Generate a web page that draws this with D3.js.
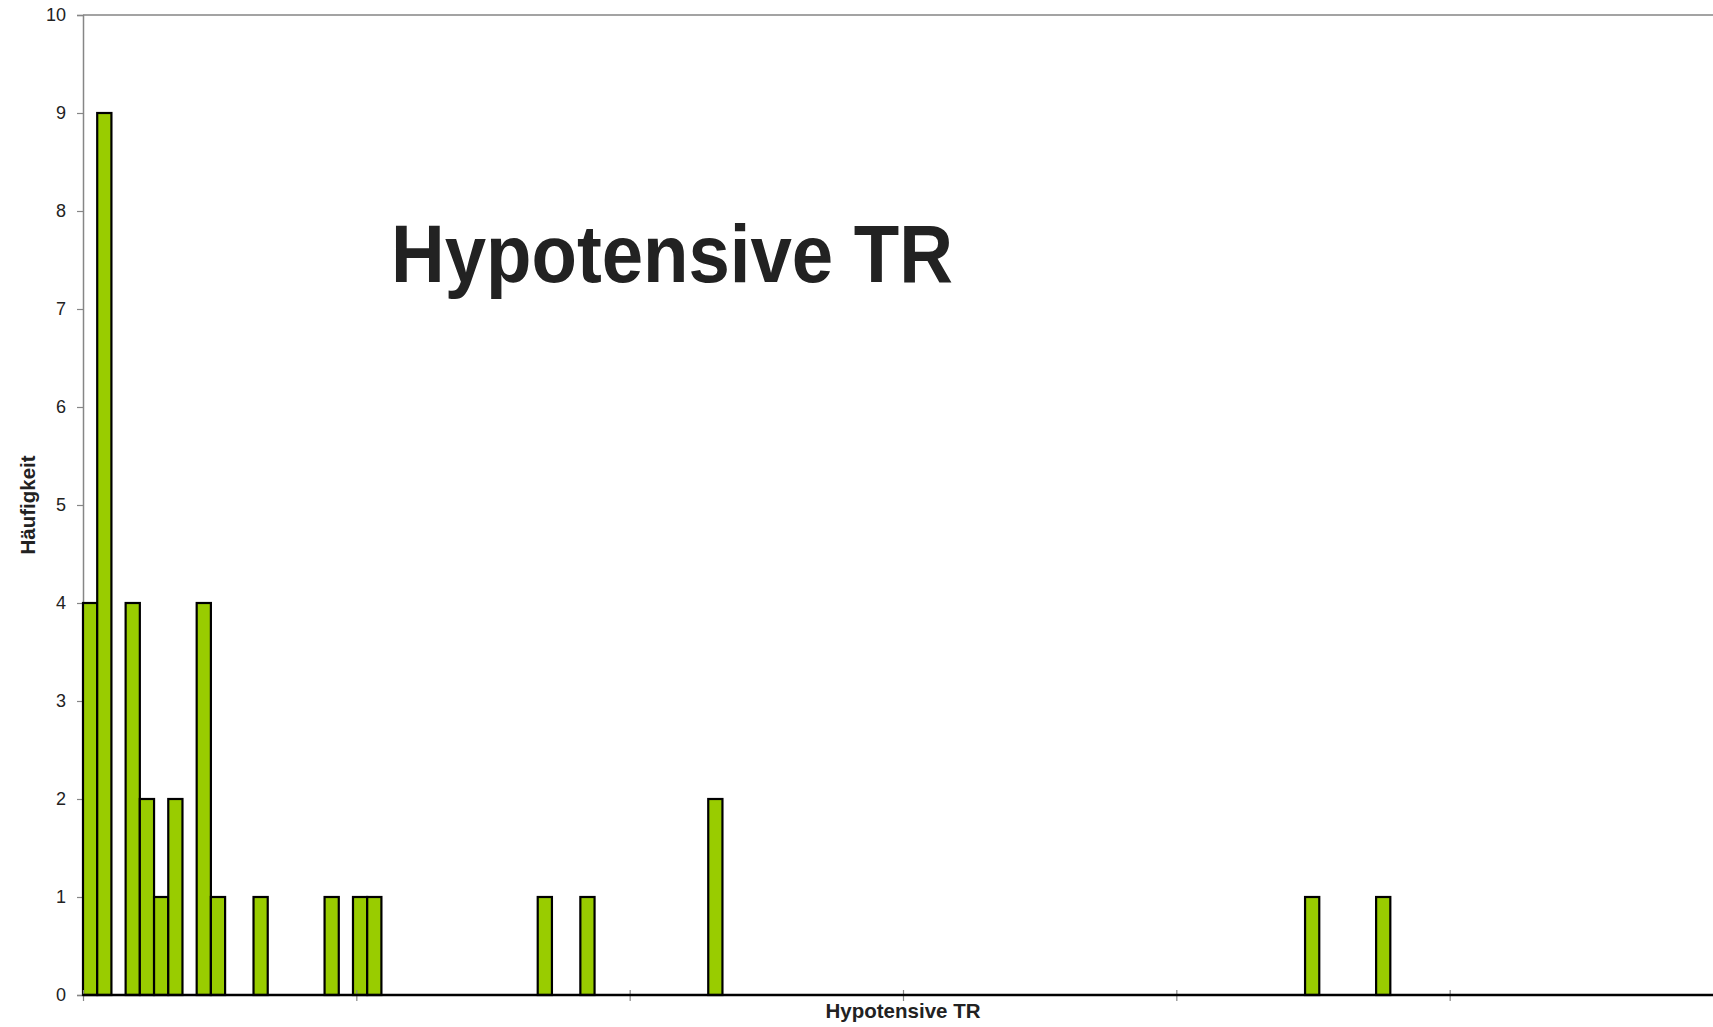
<!DOCTYPE html>
<html>
<head>
<meta charset="utf-8">
<script src="https://cdn.jsdelivr.net/npm/d3@7"></script>
<style>
  body { margin: 0; background: #fff; }
  svg { display: block; font-family: "Liberation Sans", Arial, sans-serif; }
</style>
</head>
<body>
<svg width="1713" height="1027"></svg>
<script>
// histogram bins (index of bin) and their counts
var binIndex = [0, 1, 3, 4, 5, 6, 8, 9, 12, 17, 19, 20, 32, 35, 44, 86, 91];
var binCount = [4, 9, 4, 2, 1, 2, 4, 1, 1, 1, 1, 1, 1, 1, 2, 1, 1];
var nBins = 115;
var yTicks = [0, 1, 2, 3, 4, 5, 6, 7, 8, 9, 10];
var xTickCount = 7;

var title = "Hypotensive TR",
    xLabel = "Hypotensive TR",
    yLabel = "Häufigkeit";

var svg = d3.select("svg");

var plotLeft = 83, plotTop = 15, plotBottom = 995, plotRight = 1723;
var binW = 14.21;

var x = d3.scaleBand()
  .domain(d3.range(nBins))
  .range([plotLeft, plotLeft + nBins * binW])
  .padding(0);

var xTick = d3.scaleLinear()
  .domain([0, xTickCount - 1])
  .range([plotLeft, plotRight]);

var y = d3.scaleLinear()
  .domain([0, 10])
  .range([plotBottom, plotTop]);

// top border
svg.append("line")
  .attr("x1", plotLeft).attr("x2", 1713)
  .attr("y1", plotTop).attr("y2", plotTop)
  .attr("stroke", "#858585").attr("stroke-width", 1.5);

// y axis
var yAxis = svg.append("g")
  .attr("transform", "translate(" + plotLeft + ",0)")
  .call(d3.axisLeft(y).tickValues(yTicks).tickSize(6).tickPadding(11));
yAxis.select(".domain").attr("stroke", "#868686").attr("stroke-width", 1.5);
yAxis.selectAll(".tick line").attr("stroke", "#868686").attr("stroke-width", 1.2);
yAxis.selectAll(".tick text")
  .attr("fill", "#222")
  .style("font-size", "18px");

// bars
var bars = binIndex.map(function(b, i){ return {bin: b, n: binCount[i]}; });
svg.selectAll("rect.bar")
  .data(bars)
  .enter()
  .append("rect")
    .attr("class", "bar")
    .attr("x", function(d){ return x(d.bin); })
    .attr("width", x.bandwidth())
    .attr("y", function(d){ return y(d.n); })
    .attr("height", function(d){ return y(0) - y(d.n); })
    .attr("fill", "#99cc00")
    .attr("stroke", "#000")
    .attr("stroke-width", 2.2);

// x axis
var xAxis = svg.append("g")
  .attr("transform", "translate(0," + plotBottom + ")")
  .call(d3.axisBottom(xTick).tickValues(d3.range(xTickCount)).tickSize(6).tickFormat(""));
xAxis.select(".domain").remove();
xAxis.selectAll(".tick line")
  .attr("y1", -5)
  .attr("stroke", "#868686").attr("stroke-width", 1.2);

svg.append("line")
  .attr("x1", plotLeft).attr("x2", 1713)
  .attr("y1", plotBottom).attr("y2", plotBottom)
  .attr("stroke", "#000").attr("stroke-width", 2.5);

// labels
svg.append("text")
  .attr("x", 903).attr("y", 1018)
  .attr("text-anchor", "middle")
  .attr("font-weight", "bold")
  .attr("fill", "#222")
  .style("font-size", "20.5px")
  .text(xLabel);

svg.append("text")
  .attr("transform", "translate(35," + ((plotTop + plotBottom) / 2) + ") rotate(-90)")
  .attr("text-anchor", "middle")
  .attr("font-weight", "bold")
  .attr("fill", "#222")
  .style("font-size", "20.5px")
  .text(yLabel);

svg.append("text")
  .attr("x", 391).attr("y", 282)
  .attr("font-weight", "bold")
  .attr("fill", "#222")
  .attr("textLength", 562)
  .attr("lengthAdjust", "spacingAndGlyphs")
  .style("font-size", "82px")
  .text(title);
</script>
</body>
</html>
